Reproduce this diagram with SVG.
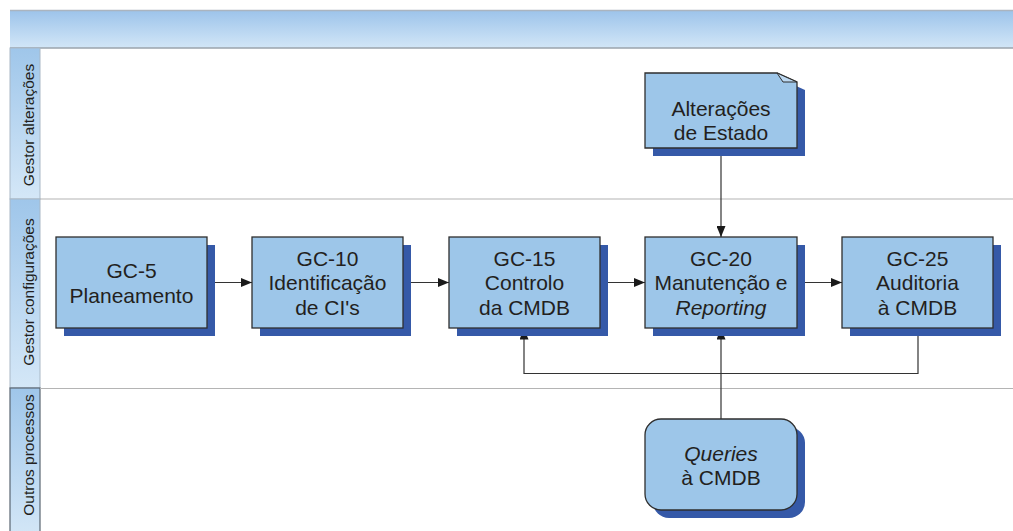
<svg xmlns="http://www.w3.org/2000/svg" width="1013" height="531" viewBox="0 0 1013 531">
<defs>
<linearGradient id="hdr" x1="0" y1="0" x2="0" y2="1">
<stop offset="0" stop-color="#9cc3ea"/>
<stop offset="1" stop-color="#d2e6f7"/>
</linearGradient>
<linearGradient id="lane" x1="0" y1="0" x2="0" y2="1">
<stop offset="0" stop-color="#9fc6ea"/>
<stop offset="1" stop-color="#d4e7f7"/>
</linearGradient>
<marker id="arr" markerWidth="11" markerHeight="9" refX="11" refY="4.5" orient="auto" markerUnits="userSpaceOnUse">
<path d="M0,0 L11,4.5 L0,9 Z" fill="#1a1a1a"/>
</marker>
<style>
.box{fill:#9dc6e9;stroke:#2e2e2e;stroke-width:1.3}
.sh{fill:#3559a8}
.t{font-family:"Liberation Sans",Arial,sans-serif;font-size:21px;fill:#231f20;text-anchor:middle}
.lt{font-family:"Liberation Sans",Arial,sans-serif;font-size:15.5px;fill:#231f20;text-anchor:middle}
.c{fill:none;stroke:#333;stroke-width:1.2}
.sep{stroke:#b4b4b4;stroke-width:1.2}
</style>
</defs>
<rect width="1013" height="531" fill="#ffffff"/>
<g id="pool">
<rect x="10" y="10" width="1003" height="38" fill="url(#hdr)"/>
<line x1="10" y1="10.5" x2="1013" y2="10.5" stroke="#aab4bf" stroke-width="1.5"/>
<line x1="10" y1="48" x2="1013" y2="48" stroke="#9aa3ad" stroke-width="1.5"/>
<rect x="10" y="48" width="30" height="151" fill="url(#lane)" stroke="#a9b8c6" stroke-width="1"/>
<rect x="10" y="199" width="30" height="189" fill="url(#lane)" stroke="#a9b8c6" stroke-width="1"/>
<rect x="10" y="388" width="30" height="150" fill="url(#lane)" stroke="#5a6672" stroke-width="1.2"/>
<line class="sep" x1="40" y1="199" x2="1013" y2="199"/>
<line class="sep" x1="40" y1="388.5" x2="1013" y2="388.5"/>
<text class="lt" transform="translate(34,125) rotate(-90)">Gestor alterações</text>
<text class="lt" transform="translate(34,292) rotate(-90)">Gestor configurações</text>
<text class="lt" transform="translate(34,455) rotate(-90)">Outros processos</text>
</g>
<g id="connectors">
<line class="c" x1="207" y1="282.5" x2="252" y2="282.5" marker-end="url(#arr)"/>
<line class="c" x1="403" y1="282.5" x2="449" y2="282.5" marker-end="url(#arr)"/>
<line class="c" x1="600" y1="282.5" x2="645" y2="282.5" marker-end="url(#arr)"/>
<line class="c" x1="797" y1="282.5" x2="842" y2="282.5" marker-end="url(#arr)"/>
<line class="c" x1="721" y1="148" x2="721" y2="237" marker-end="url(#arr)"/>
<path class="c" d="M918,328 V373.5 H524 V328.5" marker-end="url(#arr)"/>
<line class="c" x1="721" y1="419" x2="721" y2="328.5" marker-end="url(#arr)"/>
</g>
<g id="gc5">
<rect class="sh" x="64" y="245" width="151" height="91"/>
<rect class="box" x="56" y="237" width="151" height="91"/>
<text class="t" x="131.5" y="277.5">GC-5</text>
<text class="t" x="131.5" y="302.5">Planeamento</text>
</g>
<g id="gc10">
<rect class="sh" x="260" y="245" width="151" height="91"/>
<rect class="box" x="252" y="237" width="151" height="91"/>
<text class="t" x="327.5" y="265.5">GC-10</text>
<text class="t" x="327.5" y="290">Identificação</text>
<text class="t" x="327.5" y="314.5">de CI's</text>
</g>
<g id="gc15">
<rect class="sh" x="457" y="245" width="151" height="91"/>
<rect class="box" x="449" y="237" width="151" height="91"/>
<text class="t" x="524.5" y="265.5">GC-15</text>
<text class="t" x="524.5" y="290">Controlo</text>
<text class="t" x="524.5" y="314.5">da CMDB</text>
</g>
<g id="gc20">
<rect class="sh" x="653" y="245" width="152" height="91"/>
<rect class="box" x="645" y="237" width="152" height="91"/>
<text class="t" x="721" y="265.5">GC-20</text>
<text class="t" x="721" y="290">Manutenção e</text>
<text class="t" x="721" y="314.5" font-style="italic">Reporting</text>
</g>
<g id="gc25">
<rect class="sh" x="850" y="245" width="151" height="91"/>
<rect class="box" x="842" y="237" width="151" height="91"/>
<text class="t" x="917.5" y="265.5">GC-25</text>
<text class="t" x="917.5" y="290">Auditoria</text>
<text class="t" x="917.5" y="314.5">à CMDB</text>
</g>
<g id="alteracoes">
<path class="sh" d="M653,81 H785 L805,90 V156 H653 Z"/>
<path class="box" d="M645,73 H777 L797,82 V148 H645 Z"/>
<path d="M777,73 L783,82 L797,82 Z" fill="#bcd8f1" stroke="#2e2e2e" stroke-width="1"/>
<text class="t" x="721" y="115.5">Alterações</text>
<text class="t" x="721" y="139.5">de Estado</text>
</g>
<g id="queries">
<rect class="sh" x="653" y="427" width="152" height="91" rx="16"/>
<rect class="box" x="645" y="419" width="152" height="91" rx="16"/>
<text class="t" x="721" y="460.5" font-style="italic">Queries</text>
<text class="t" x="721" y="484.5">à CMDB</text>
</g>
</svg>
